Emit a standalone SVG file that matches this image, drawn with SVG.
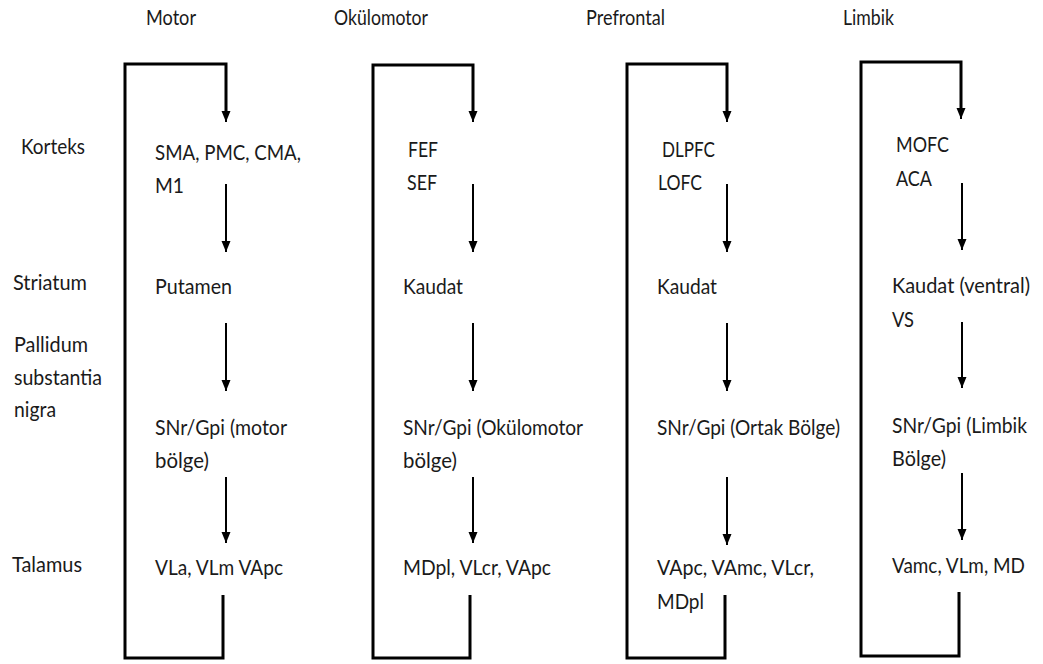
<svg xmlns="http://www.w3.org/2000/svg" width="1043" height="664" viewBox="0 0 1043 664">
<defs>
<marker id="ah" markerUnits="userSpaceOnUse" markerWidth="12" markerHeight="12" viewBox="0 0 12 12" refX="11" refY="6" orient="auto">
<path d="M0,1.5 L11,6 L0,10.5 z" fill="#000"/>
</marker>
<style>
text{font-family:Lato,"Open Sans","Liberation Sans",sans-serif;font-size:21px;fill:#1a1a1a}
.hdr{font-size:21px}
.frame{fill:none;stroke:#000;stroke-width:3}
.arr{fill:none;stroke:#000;stroke-width:2;marker-end:url(#ah)}
</style>
</defs>
<rect width="1043" height="664" fill="#fff"/>
<g id="headers">
<text class="hdr" x="146" y="25" textLength="50" lengthAdjust="spacingAndGlyphs">Motor</text>
<text class="hdr" x="334" y="25" textLength="94" lengthAdjust="spacingAndGlyphs">Okülomotor</text>
<text class="hdr" x="586" y="25" textLength="79" lengthAdjust="spacingAndGlyphs">Prefrontal</text>
<text class="hdr" x="843" y="25" textLength="51" lengthAdjust="spacingAndGlyphs">Limbik</text>
</g>
<g id="levels">
<text x="21" y="154" textLength="64" lengthAdjust="spacingAndGlyphs">Korteks</text>
<text x="13" y="290" textLength="74" lengthAdjust="spacingAndGlyphs">Striatum</text>
<text x="14" y="352" textLength="74" lengthAdjust="spacingAndGlyphs">Pallidum</text>
<text x="14" y="385" textLength="88" lengthAdjust="spacingAndGlyphs">substantia</text>
<text x="14" y="417" textLength="42" lengthAdjust="spacingAndGlyphs">nigra</text>
<text x="12" y="572" textLength="70" lengthAdjust="spacingAndGlyphs">Talamus</text>
</g>
<g id="connectors">
<path class="frame" d="M223,595 V658 H125 V64 H226 V112"/>
<path class="arr" d="M226,110 V122"/>
<path class="arr" d="M226,184 V252"/>
<path class="arr" d="M226,323 V391"/>
<path class="arr" d="M226,477 V543"/>
<path class="frame" d="M470,595 V658 H373 V65 H473 V112"/>
<path class="arr" d="M473,110 V122"/>
<path class="arr" d="M473,184 V252"/>
<path class="arr" d="M473,323 V391"/>
<path class="arr" d="M473,477 V543"/>
<path class="frame" d="M725,595 V658 H627 V64 H727 V112"/>
<path class="arr" d="M727,110 V122"/>
<path class="arr" d="M727,184 V252"/>
<path class="arr" d="M727,323 V391"/>
<path class="arr" d="M727,477 V545"/>
<path class="frame" d="M959,592 V656 H861 V62 H961 V109"/>
<path class="arr" d="M961,107 V119"/>
<path class="arr" d="M962,183 V250"/>
<path class="arr" d="M962,322 V388"/>
<path class="arr" d="M962,473 V540"/>
</g>
<g id="motor">
<text x="155" y="160" textLength="146" lengthAdjust="spacingAndGlyphs">SMA, PMC, CMA,</text>
<text x="155" y="193" textLength="29" lengthAdjust="spacingAndGlyphs">M1</text>
<text x="155" y="294" textLength="77" lengthAdjust="spacingAndGlyphs">Putamen</text>
<text x="155" y="435" textLength="132" lengthAdjust="spacingAndGlyphs">SNr/Gpi (motor</text>
<text x="155" y="468" textLength="54" lengthAdjust="spacingAndGlyphs">bölge)</text>
<text x="155" y="575" textLength="128" lengthAdjust="spacingAndGlyphs">VLa, VLm VApc</text>
</g>
<g id="okulomotor">
<text x="408" y="157" textLength="30" lengthAdjust="spacingAndGlyphs">FEF</text>
<text x="407" y="190" textLength="30" lengthAdjust="spacingAndGlyphs">SEF</text>
<text x="403" y="294" textLength="60" lengthAdjust="spacingAndGlyphs">Kaudat</text>
<text x="403" y="435" textLength="180" lengthAdjust="spacingAndGlyphs">SNr/Gpi (Okülomotor</text>
<text x="403" y="468" textLength="54" lengthAdjust="spacingAndGlyphs">bölge)</text>
<text x="403" y="575" textLength="148" lengthAdjust="spacingAndGlyphs">MDpl, VLcr, VApc</text>
</g>
<g id="prefrontal">
<text x="662" y="157" textLength="53" lengthAdjust="spacingAndGlyphs">DLPFC</text>
<text x="658" y="190" textLength="44" lengthAdjust="spacingAndGlyphs">LOFC</text>
<text x="657" y="294" textLength="60" lengthAdjust="spacingAndGlyphs">Kaudat</text>
<text x="657" y="435" textLength="183" lengthAdjust="spacingAndGlyphs">SNr/Gpi (Ortak Bölge)</text>
<text x="657" y="575" textLength="157" lengthAdjust="spacingAndGlyphs">VApc, VAmc, VLcr,</text>
<text x="657" y="609" textLength="47" lengthAdjust="spacingAndGlyphs">MDpl</text>
</g>
<g id="limbik">
<text x="896" y="152" textLength="53" lengthAdjust="spacingAndGlyphs">MOFC</text>
<text x="896" y="186" textLength="36" lengthAdjust="spacingAndGlyphs">ACA</text>
<text x="892" y="293" textLength="138" lengthAdjust="spacingAndGlyphs">Kaudat (ventral)</text>
<text x="892" y="327" textLength="22" lengthAdjust="spacingAndGlyphs">VS</text>
<text x="892" y="433" textLength="135" lengthAdjust="spacingAndGlyphs">SNr/Gpi (Limbik</text>
<text x="892" y="466" textLength="54" lengthAdjust="spacingAndGlyphs">Bölge)</text>
<text x="892" y="573" textLength="133" lengthAdjust="spacingAndGlyphs">Vamc, VLm, MD</text>
</g>
</svg>
